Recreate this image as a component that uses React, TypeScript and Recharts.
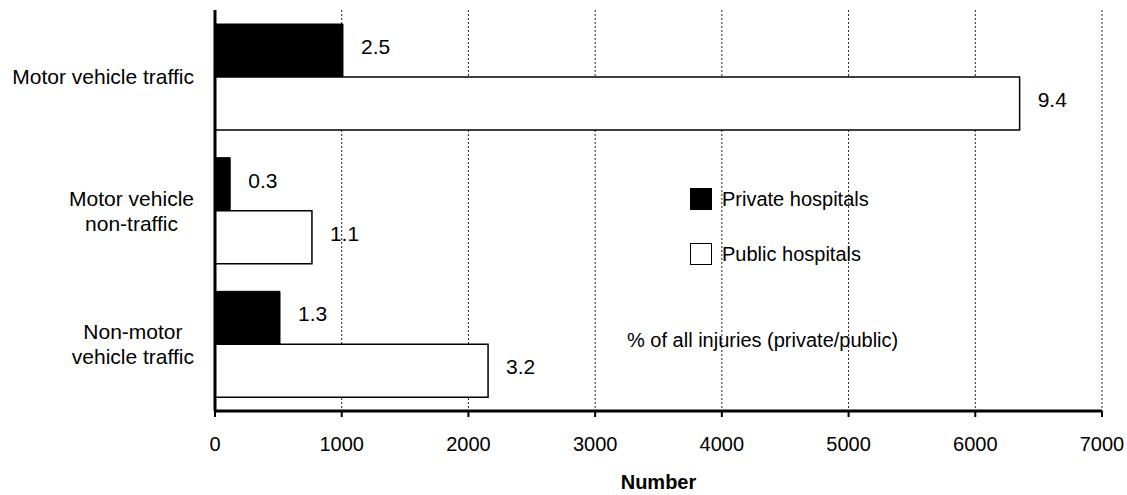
import React from 'react';
import {
    BarChart,
    Bar,
    XAxis,
    YAxis,
    CartesianGrid,
    Legend,
    LabelList,
} from 'recharts';

// categories (line breaks as in the original axis)
const categories = ['Motor vehicle traffic', 'Motor vehicle\nnon-traffic', 'Non-motor\nvehicle traffic'];
// number of injuries
const privateValues = [1010, 120, 513];
const publicValues = [6350, 765, 2155];
// % of all injuries (private/public)
const privatePct = ['2.5', '0.3', '1.3'];
const publicPct = ['9.4', '1.1', '3.2'];
const xTicks = [0, 1000, 2000, 3000, 4000, 5000, 6000, 7000];

const FONT = '"Liberation Sans", Arial, sans-serif';

const data = categories.map((name, i) => ({
    name,
    privateHosp: privateValues[i],
    publicHosp: publicValues[i],
    privatePct: privatePct[i],
    publicPct: publicPct[i],
}));

let measureCtx: CanvasRenderingContext2D | null = null;
const measure = (text: string, size: number) => {
    if (!measureCtx) measureCtx = document.createElement('canvas').getContext('2d');
    if (!measureCtx) return text.length * size * 0.5;
    measureCtx.font = `${size}px ${FONT}`;
    return measureCtx.measureText(text).width;
};

// category label: lines centred on each other, block right-aligned to the axis
const CategoryTick = (props: any) => {
    const { x, y, payload } = props;
    const lines: string[] = String(payload.value).split('\n');
    const size = 21;
    const lineH = 25;
    const maxW = Math.max(...lines.map((l) => measure(l, size)));
    const cx = x - maxW / 2;
    const startY = y - ((lines.length - 1) * lineH) / 2;
    return (
        <g>
            {lines.map((l, i) => (
                <text key={i} x={cx} y={startY + i * lineH} dy="0.36em" textAnchor="middle"
                    fontSize={size} fontFamily={FONT} fill="#000">
                    {l}
                </text>
            ))}
        </g>
    );
};

const LegendBox = () => (
    <div style={{ fontFamily: FONT, fontSize: 20, color: '#000' }}>
        <div style={{ display: 'flex', alignItems: 'center', height: 22, marginBottom: 33 }}>
            <span style={{ width: 20, height: 20, background: '#000', border: '1px solid #000', marginRight: 10 }} />
            <span>Private hospitals</span>
        </div>
        <div style={{ display: 'flex', alignItems: 'center', height: 22 }}>
            <span style={{ width: 20, height: 20, background: '#fff', border: '1px solid #000', marginRight: 10 }} />
            <span>Public hospitals</span>
        </div>
    </div>
);

export default function App() {
    return (
        <div style={{ position: 'absolute', left: 0, top: 0, width: 1127, height: 495, background: '#fff' }}>
            <BarChart
                width={1127}
                height={495}
                data={data}
                layout="vertical"
                margin={{ top: 10, right: 25, left: 0, bottom: 0 }}
                barCategoryGap={14}
                barGap={0}
            >
                <CartesianGrid horizontal={false} stroke="#222" strokeDasharray="2 2" />
                <XAxis
                    type="number"
                    domain={[0, 7000]}
                    ticks={xTicks}
                    interval={0}
                    height={84}
                    axisLine={{ stroke: '#000', strokeWidth: 3 }}
                    tickLine={{ stroke: '#000', strokeWidth: 2 }}
                    tickSize={6}
                    tickMargin={20}
                    tick={{ fill: '#000', fontSize: 20, fontFamily: FONT }}
                    label={{ value: 'Number', position: 'insideBottom', offset: 6, fill: '#000', fontSize: 20, fontWeight: 700, fontFamily: FONT }}
                />
                <YAxis
                    type="category"
                    dataKey="name"
                    width={215}
                    axisLine={{ stroke: '#000', strokeWidth: 3 }}
                    tickLine={false}
                    tickSize={6}
                    tickMargin={15}
                    tick={<CategoryTick />}
                />
                <Legend
                    layout="vertical"
                    align="center"
                    verticalAlign="middle"
                    content={<LegendBox />}
                    wrapperStyle={{ left: 690, top: 188, width: 'auto' }}
                />
                <Bar dataKey="privateHosp" name="Private hospitals" fill="#000" stroke="#000" isAnimationActive={false}>
                    <LabelList dataKey="privatePct" position="right" offset={18} dy={-4} fill="#000" fontSize={21} fontFamily={FONT} />
                </Bar>
                <Bar dataKey="publicHosp" name="Public hospitals" fill="#fff" stroke="#000" strokeWidth={1.5} isAnimationActive={false}>
                    <LabelList dataKey="publicPct" position="right" offset={18} dy={-4} fill="#000" fontSize={21} fontFamily={FONT} />
                </Bar>
            </BarChart>
            <div style={{ position: 'absolute', left: 627, top: 329, fontFamily: FONT, fontSize: 20, color: '#000', whiteSpace: 'nowrap' }}>
                % of all injuries (private/public)
            </div>
        </div>
    );
}
